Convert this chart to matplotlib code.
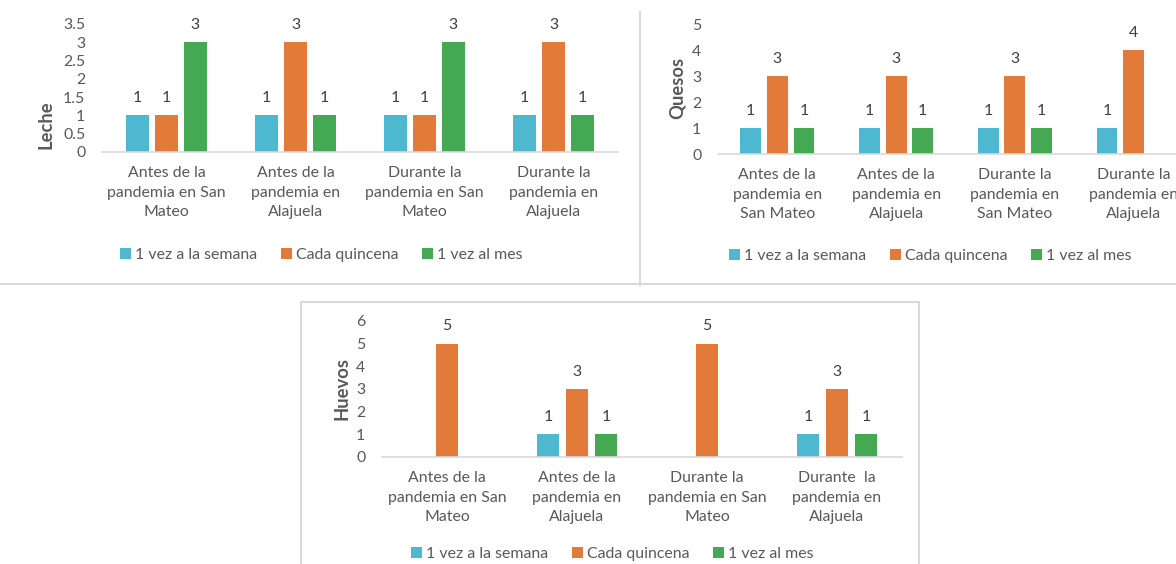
import matplotlib
matplotlib.use("Agg")
import matplotlib.pyplot as plt
from matplotlib.patches import Patch
from matplotlib.lines import Line2D
import numpy as np

# ---------------- data ----------------
series_names = ["1 vez a la semana", "Cada quincena", "1 vez al mes"]

leche_categories = ["Antes de la\npandemia en San\nMateo", "Antes de la\npandemia en\nAlajuela",
                    "Durante la\npandemia en San\nMateo", "Durante la\npandemia en\nAlajuela"]
leche_semana = [1, 1, 1, 1]
leche_quincena = [1, 3, 1, 3]
leche_mes = [3, 1, 3, 1]
leche_yticks = [0, 0.5, 1, 1.5, 2, 2.5, 3, 3.5]
leche_yticklabels = ["0", "0.5", "1", "1.5", "2", "2.5", "3", "3.5"]

quesos_categories = ["Antes de la\npandemia en\nSan Mateo", "Antes de la\npandemia en\nAlajuela",
                     "Durante la\npandemia en\nSan Mateo", "Durante la\npandemia en\nAlajuela"]
quesos_semana = [1, 1, 1, 1]
quesos_quincena = [3, 3, 3, 4]
quesos_mes = [1, 1, 1, 0]
quesos_yticks = [0, 1, 2, 3, 4, 5]

huevos_categories = ["Antes de la\npandemia en San\nMateo", "Antes de la\npandemia en\nAlajuela",
                     "Durante la\npandemia en San\nMateo", "Durante  la\npandemia en\nAlajuela"]
huevos_semana = [0, 1, 0, 1]
huevos_quincena = [5, 3, 5, 3]
huevos_mes = [0, 1, 0, 1]
huevos_yticks = [0, 1, 2, 3, 4, 5, 6]

# ---------------- style ----------------
W, H = 1176, 564
DPI = 100
plt.rcParams['font.family'] = ['Lato', 'DejaVu Sans']
FS = 11.4
TXT = '#595959'
LBL = '#404040'
COLORS = ['#4FB8D1', '#E27B3A', '#45A853']
BORDER = '#D9D9D9'

fig = plt.figure(figsize=(W / DPI, H / DPI), dpi=DPI)
fig.patch.set_facecolor('white')


def px_axes(x0, x1, ytop, yzero):
    return fig.add_axes([x0 / W, 1 - yzero / H, (x1 - x0) / W, (yzero - ytop) / H])


def draw_chart(ax, cats, values, yticks, yticklabels, ymax, ylabel, ylabel_xy):
    x = np.arange(len(cats))
    width = 0.175
    offs = [-0.224, 0.0, 0.224]
    for vals, off, col in zip(values, offs, COLORS):
        bars = ax.bar(x + off, vals, width, color=col, zorder=2)
        for b, v in zip(bars, vals):
            if v > 0:
                ax.annotate(str(v), (b.get_x() + b.get_width() / 2, v),
                            xytext=(0, 12.5), textcoords='offset points',
                            ha='center', va='center', fontsize=FS, color=LBL)
    ax.set_xlim(-0.5, len(cats) - 0.5)
    ax.set_ylim(0, ymax)
    ax.set_yticks(yticks)
    ax.set_yticklabels(yticklabels)
    ax.set_xticks(x)
    ax.set_xticklabels(cats, linespacing=1.52)
    ax.tick_params(axis='both', length=0, labelsize=FS, colors=TXT)
    ax.tick_params(axis='y', pad=12)
    ax.tick_params(axis='x', pad=10)
    for s in ['top', 'right', 'left']:
        ax.spines[s].set_visible(False)
    ax.spines['bottom'].set_color(BORDER)
    ax.spines['bottom'].set_linewidth(1.2)
    ax.patch.set_alpha(0)
    fig.text(ylabel_xy[0] / W, 1 - ylabel_xy[1] / H, ylabel, rotation=90,
             ha='center', va='center', fontsize=13.2, fontweight='bold', color=TXT)


def draw_legend(cx, cy):
    handles = [Patch(facecolor=c, edgecolor='none') for c in COLORS]
    fig.legend(handles, series_names, loc='center', bbox_to_anchor=(cx / W, 1 - cy / H),
               ncol=3, frameon=False, fontsize=FS, labelcolor=TXT,
               handlelength=0.7, handleheight=0.7, handletextpad=0.25,
               columnspacing=1.5, borderpad=0, borderaxespad=0)


# Leche
ax1 = px_axes(102, 618, 152 - 3.5 * 36.6, 152)
draw_chart(ax1, leche_categories, [leche_semana, leche_quincena, leche_mes],
           leche_yticks, leche_yticklabels, 3.5, 'Leche', (46, 125))
draw_legend(321, 255)

# Quesos
ax2 = px_axes(718, 1193, 24, 154)
draw_chart(ax2, quesos_categories, [quesos_semana, quesos_quincena, quesos_mes],
           quesos_yticks, [str(t) for t in quesos_yticks], 5, 'Quesos', (677, 88))
draw_legend(930, 256)

# Huevos
ax3 = px_axes(382, 902, 321, 457)
draw_chart(ax3, huevos_categories, [huevos_semana, huevos_quincena, huevos_mes],
           huevos_yticks, [str(t) for t in huevos_yticks], 6, 'Huevos', (342, 389))
draw_legend(612, 554)

# panel borders
def fline(xs, ys):
    fig.add_artist(Line2D([x / W for x in xs], [1 - y / H for y in ys],
                          color=BORDER, linewidth=1.5, transform=fig.transFigure))

fline([640, 640], [12, 285])
fline([0, 1176], [284, 284])
fline([300.5, 300.5, 919, 919], [566, 302, 302, 566])

fig.savefig('out.png', dpi=DPI, facecolor='white')
